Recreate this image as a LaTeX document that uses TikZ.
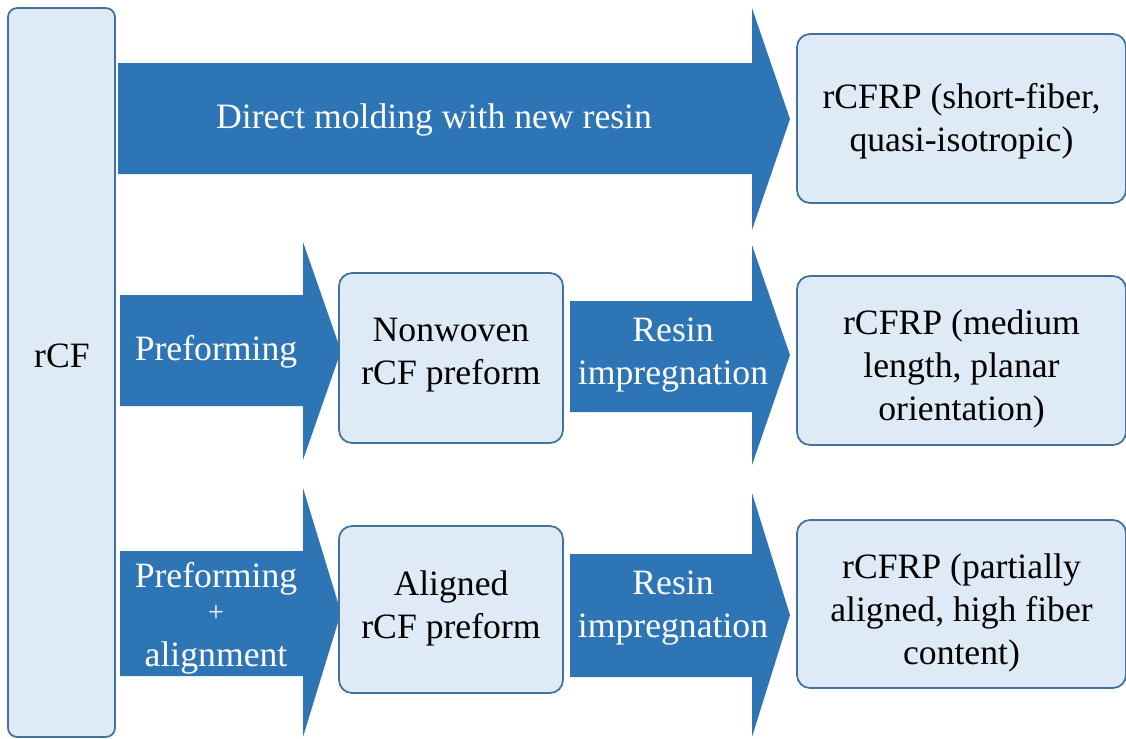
\documentclass[tikz,border=0pt]{standalone}
\usepackage{fontspec}
\setmainfont{Liberation Serif}
\usepackage{tikz}

\definecolor{arrowblue}{HTML}{2E75B6}
\definecolor{boxfill}{HTML}{DEEBF7}
\definecolor{boxline}{HTML}{41719C}

% block arrow: x left, x head base, body top, body bottom, head top, head bottom
\newcommand{\blockarrow}[6]{%
	\fill [arrowblue] (#1, #3) -- (#2, #3) -- (#2, #5) -- ({#2 + 38}, {(#5 + #6) / 2}) -- (#2, #6) -- (#2, #4) -- (#1, #4) -- cycle;}

\begin{document}

\begin{tikzpicture}[x = 0.02cm, y = -0.02cm, font = \fontsize{20.3}{24.5}\selectfont,
	stepbox/.style = {draw = boxline, line width = 1pt, fill = boxfill, rounded corners = 0.26cm, inner sep = 0pt},
	boxtext/.style = {align = center, inner sep = 0pt},
	arrowtext/.style = {white, align = center, inner sep = 0pt}]

\useasboundingbox (0, 0) rectangle (1126, 738);

	% source
	\node [stepbox, rounded corners = 0.18cm, minimum width = 2.14cm, minimum height = 14.58cm] (rcf) at (61.5, 372.5) {};
	\node [boxtext] (rcftext) at (62, 356) {rCF};

	% route 1: direct molding
	\blockarrow{118}{752}{63}{174}{8}{230}
	\node [arrowtext] (direct) at (434, 120) {Direct molding with new resin};
	\node [stepbox, minimum width = 6.58cm, minimum height = 3.38cm] (short) at (961.5, 118.5) {};
	\node [boxtext] (shorttext) at (961.5, 121) {rCFRP (short-fiber,\\quasi-isotropic)};

	% route 2: nonwoven
	\blockarrow{120}{303}{295}{406}{242}{460}
	\node [arrowtext] (preform) at (216, 352) {Preforming};
	\node [stepbox, minimum width = 4.48cm, minimum height = 3.4cm] (nonwoven) at (451, 358) {};
	\node [boxtext] (nonwoventext) at (451, 355) {Nonwoven\\rCF preform};
	\blockarrow{570}{752}{301}{412}{245}{465}
	\node [arrowtext] (resinA) at (673, 355) {Resin\\impregnation};
	\node [stepbox, minimum width = 6.58cm, minimum height = 3.38cm] (medium) at (961.5, 360.5) {};
	\node [boxtext] (mediumtext) at (961.5, 369) {rCFRP (medium\\length, planar\\orientation)};

	% route 3: aligned
	\blockarrow{120}{303}{551}{676}{488}{737}
	\node [arrowtext] (align) at (216, 618) {Preforming\\[-5pt]{\fontsize{16}{16}\selectfont +}\\[1pt]alignment};
	\node [stepbox, minimum width = 4.48cm, minimum height = 3.34cm] (aligned) at (451, 609.5) {};
	\node [boxtext] (alignedtext) at (451, 608) {Aligned\\rCF preform};
	\blockarrow{570}{752}{554}{677}{493}{737}
	\node [arrowtext] (resinB) at (673, 608) {Resin\\impregnation};
	\node [stepbox, minimum width = 6.58cm, minimum height = 3.36cm] (partial) at (961.5, 604) {};
	\node [boxtext] (partialtext) at (961.5, 613) {rCFRP (partially\\aligned, high fiber\\content)};

\end{tikzpicture}

\end{document}
